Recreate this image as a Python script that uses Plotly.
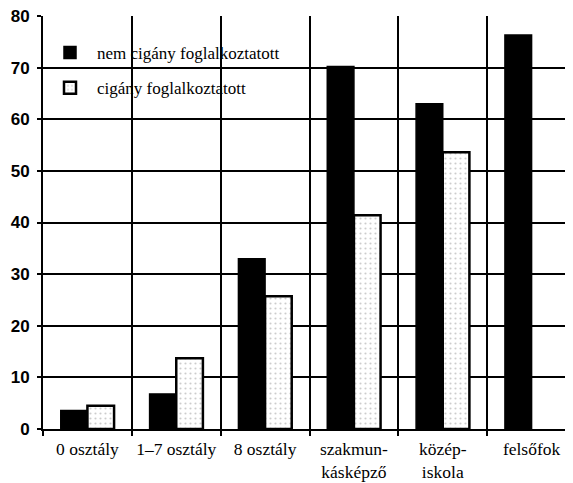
import plotly.graph_objects as go

categories = ["0 osztály", "1–7 osztály", "8 osztály", "szakmun-<br>kásképző", "közép-<br>iskola", "felsőfok"]
nem_cigany = [3.6, 6.8, 33.0, 70.2, 63.0, 76.3]
cigany = [4.5, 13.7, 25.7, 41.4, 53.6, None]
series_names = ["nem cigány foglalkoztatott", "cigány foglalkoztatott"]
y_ticks = [0, 10, 20, 30, 40, 50, 60, 70, 80]

fig = go.Figure()
fig.add_trace(go.Bar(
    x=categories, y=nem_cigany, name=series_names[0],
    marker=dict(color="black", line=dict(color="black", width=1.5)),
    legendgroup="a",
))
fig.add_trace(go.Bar(
    x=categories, y=cigany, name=series_names[1],
    marker=dict(color="white", line=dict(color="black", width=2.5),
                pattern=dict(shape=".", fgcolor="#9a9a9a", bgcolor="white", size=5, solidity=0.15)),
    legendgroup="b",
))

fig.update_layout(
    width=573, height=483,
    margin=dict(l=35, r=5, t=8, b=62),
    paper_bgcolor="white", plot_bgcolor="white",
    barmode="group", bargap=0.40, bargroupgap=0,
    showlegend=True,
    legend=dict(x=0.0, y=0.954, xanchor="left", yanchor="top",
                bgcolor="rgba(0,0,0,0)", borderwidth=0,
                font=dict(family="Liberation Serif", size=17, color="black"),
                tracegroupgap=10, itemwidth=44),
    font=dict(family="Liberation Serif", color="black"),
)
fig.update_xaxes(
    type="category", tickson="boundaries", tickangle=0, automargin=False,
    ticklabeloverflow="allow",
    showgrid=True, gridcolor="black", gridwidth=2,
    showline=True, linecolor="black", linewidth=2,
    ticks="outside", ticklen=5, tickcolor="black", tickwidth=2,
    ticklabelstandoff=3,
    tickfont=dict(family="Liberation Serif", size=17.5, color="black"),
    zeroline=False,
)
fig.update_yaxes(
    range=[0, 80], tickvals=y_ticks, automargin=False,
    ticklabeloverflow="allow",
    showgrid=True, gridcolor="black", gridwidth=2,
    showline=True, linecolor="black", linewidth=2,
    ticks="outside", ticklen=4, tickcolor="black", tickwidth=2,
    ticklabelstandoff=4,
    tickfont=dict(family="Liberation Sans", size=17, color="black", weight="bold"),
    zeroline=False,
)

fig.write_html("out.html")
